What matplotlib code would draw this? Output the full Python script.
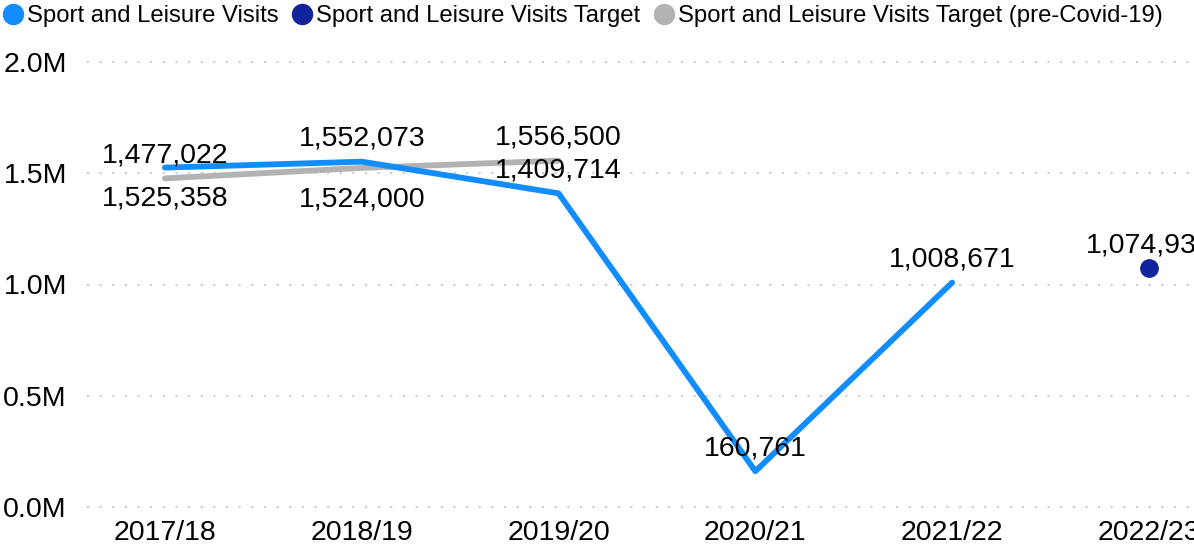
import matplotlib
matplotlib.use("Agg")
import matplotlib.pyplot as plt
import numpy as np
from matplotlib.lines import Line2D

plt.rcParams['font.family'] = ['Liberation Sans', 'DejaVu Sans']

categories = ["2017/18", "2018/19", "2019/20", "2020/21", "2021/22", "2022/23"]
visits = [1525358, 1552073, 1409714, 160761, 1008671]
target = [None, None, None, None, None, 1074930]
target_precovid = [1477022, 1524000, 1556500]
y_ticks = [0, 500000, 1000000, 1500000, 2000000]
y_tick_labels = ["0.0M", "0.5M", "1.0M", "1.5M", "2.0M"]

# label placement (style): 'a' above, 'b' below
visits_pos = ['b', 'a', 'a', 'a', 'a']
precovid_pos = ['a', 'b', 'a']
target_pos = [None, None, None, None, None, 'a']

C_VIS = "#118DFF"
C_TGT = "#12239E"
C_PRE = "#B3B3B3"
TXT = "#000000"

W, H = 1194, 550
fig = plt.figure(figsize=(W / 100, H / 100), dpi=100)
ax = fig.add_axes([87 / W, (H - 507) / H, 1 - 87 / W, (507 - 62) / H])

x = np.arange(len(categories))
ax.set_xlim(-0.396, 5.229)
ax.set_ylim(0, 2000000)

for yt in y_ticks:
    ax.axhline(yt, color="#C8C8C8", lw=1.4, ls=(0, (1, 5.5)), zorder=0, clip_on=False)

ax.plot(x[:len(target_precovid)], target_precovid, color=C_PRE, lw=4.2,
        solid_capstyle='round', solid_joinstyle='round', zorder=2)
ax.plot(x[:len(visits)], visits, color=C_VIS, lw=4.2,
        solid_capstyle='round', solid_joinstyle='round', zorder=3)
tx = [i for i, v in enumerate(target) if v is not None]
ty = [v for v in target if v is not None]
ax.plot(tx, ty, 'o', color=C_TGT, ms=12.5, zorder=4, clip_on=False)

FS = 20.5
def lab(xi, v, pos):
    off = 11.3 if pos == 'a' else -27.6
    ax.annotate(f"{v:,}", (xi, v), xytext=(0, off), textcoords='offset points',
                ha='center', va='baseline', fontsize=FS, color=TXT,
                annotation_clip=False, zorder=5)

for i, v in enumerate(visits):
    lab(i, v, visits_pos[i])
for i, v in enumerate(target_precovid):
    lab(i, v, precovid_pos[i])
for i, v in enumerate(target):
    if v is not None:
        lab(i, v, target_pos[i])

ax.set_xticks(x)
ax.set_xticklabels(categories, fontsize=FS, color=TXT)
ax.set_yticks(y_ticks)
ax.set_yticklabels(y_tick_labels, fontsize=FS, color=TXT)
ax.tick_params(axis='x', length=0, pad=9.4)
ax.tick_params(axis='y', length=0, pad=14.4)
for s in ax.spines.values():
    s.set_visible(False)

handles = [Line2D([], [], marker='o', ls='', color=c, ms=14.4) for c in (C_VIS, C_TGT, C_PRE)]
names = ["Sport and Leisure Visits", "Sport and Leisure Visits Target",
         "Sport and Leisure Visits Target (pre-Covid-19)"]
fig.legend(handles, names, loc='upper left', bbox_to_anchor=(3 / W, 1 - 5 / H), ncol=3,
           frameon=False, fontsize=17.2, handlelength=0.85, handletextpad=0.17,
           columnspacing=0.55, borderpad=0.0, borderaxespad=0.0,
           bbox_transform=fig.transFigure, labelcolor=TXT)

fig.savefig("out.png", dpi=100)
